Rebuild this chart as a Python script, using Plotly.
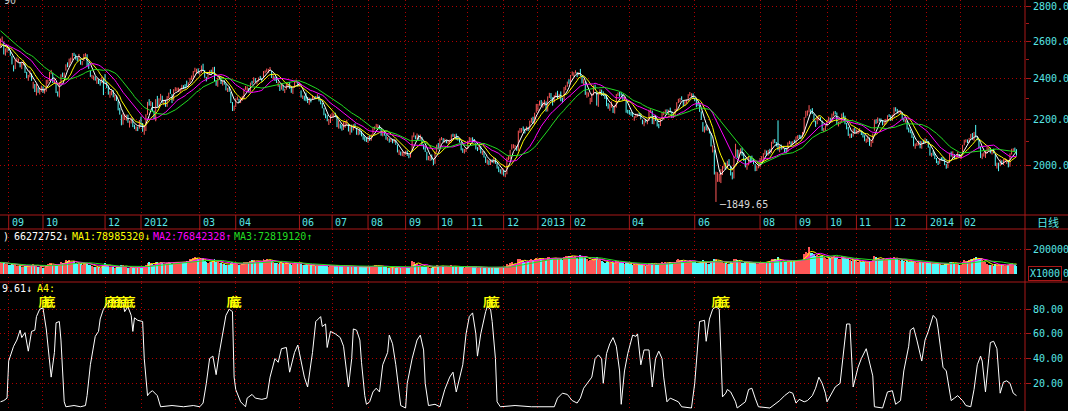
import math
import pandas as pd
import plotly.graph_objects as go

# ---------------- DATA (Shanghai Composite, daily, 2011-08-25 .. 2014-03-27) ----------------
hist_closes = [2796, 2820, 2817, 2812, 2783, 2788, 2800, 2688, 2687, 2752, 2705, 2701, 2703, 2685, 2678,
               2665, 2626, 2526, 2528, 2581, 2550, 2593, 2611, 2607, 2600, 2598, 2534, 2533, 2558, 2570]

opens = [
    2575, 2611, 2592, 2530, 2545,
    2566, 2548, 2517, 2465, 2452, 2497, 2494, 2481, 2466, 2474, 2478, 2426, 2408, 2414, 2424, 2370, 2370, 2338, 2351, 2331, 2342,
    2357, 2330, 2347, 2380, 2395, 2432, 2429, 2382, 2369, 2326, 2317, 2382, 2422, 2410, 2447, 2469,
    2468, 2500, 2503, 2533, 2520, 2505, 2504, 2497, 2480, 2496, 2527, 2524, 2467, 2439, 2409, 2403, 2409, 2386, 2393, 2380, 2392, 2394,
    2400, 2379, 2356, 2320, 2332, 2330, 2298, 2311, 2288, 2244, 2220, 2184, 2217, 2212, 2213, 2183, 2189, 2197, 2168, 2162, 2167, 2162,
    2212, 2170, 2147, 2164, 2227, 2285, 2273, 2282, 2238, 2204, 2297, 2261, 2302, 2310, 2278,
    2292, 2269, 2310, 2340, 2321, 2297, 2343, 2346, 2348, 2344, 2344, 2360, 2365, 2389, 2360, 2383, 2406, 2410, 2444, 2445, 2450,
    2424, 2434, 2465, 2442, 2406, 2403, 2430, 2440, 2438, 2458, 2387, 2366, 2402, 2407, 2378, 2381, 2368, 2342, 2353, 2332, 2278, 2255,
    2267, 2300, 2297, 2283, 2309, 2310, 2352, 2350, 2350, 2339, 2380, 2382, 2400, 2379, 2394, 2405, 2399,
    2410, 2437, 2443, 2435, 2451, 2440, 2405, 2410, 2404, 2365, 2362, 2348, 2364, 2341, 2351, 2371, 2370, 2354, 2333, 2359, 2388, 2379,
    2370, 2339, 2306, 2311, 2305, 2302, 2282, 2300, 2298, 2305, 2308, 2310, 2312, 2290, 2276, 2253, 2222, 2214, 2193, 2189,
    2225, 2222, 2228, 2210, 2165, 2176, 2166, 2162, 2178, 2183, 2182, 2150, 2162, 2161, 2170, 2159, 2140, 2148, 2136, 2127, 2120, 2104,
    2100, 2121, 2111, 2134, 2162, 2168, 2172, 2172, 2160, 2132, 2143, 2128, 2113, 2113, 2104, 2111, 2100, 2106, 2087, 2056, 2055, 2045, 2043,
    2051, 2058, 2042, 2034, 2057, 2126, 2124, 2118, 2130, 2114, 2121, 2083, 2075, 2055, 2024, 2026, 2038, 2025, 2010, 2059,
    2086, 2077, 2113, 2114, 2105, 2103, 2096, 2103, 2100, 2131, 2124, 2133, 2115, 2110, 2099, 2066, 2058, 2063,
    2070, 2104, 2113, 2115, 2107, 2094, 2069, 2068, 2082, 2049, 2056, 2031, 2012, 2015, 2004, 2021, 2012, 2028, 2008, 1990, 1973, 1968,
    1975, 1955, 1963, 2028, 2030, 2067, 2080, 2078, 2076, 2063, 2147, 2150, 2161, 2154, 2157, 2163, 2160, 2194, 2211, 2186, 2236,
    2259, 2275, 2290, 2270, 2275, 2282, 2243, 2312, 2322, 2303, 2289, 2318, 2326, 2308, 2326, 2296, 2295, 2359, 2364, 2386,
    2382, 2428, 2418, 2433, 2429, 2420, 2446, 2413, 2379, 2382, 2313, 2315, 2292, 2293, 2320,
    2360, 2334, 2269, 2327, 2343, 2326, 2320, 2310, 2268, 2262, 2269, 2256, 2240, 2266, 2324, 2326, 2330, 2322, 2301, 2290, 2240,
    2238, 2232, 2229, 2210, 2214, 2222, 2230, 2226, 2198, 2178, 2198, 2188, 2199, 2240, 2240, 2184, 2219, 2197,
    2178, 2175, 2207, 2232, 2236, 2242, 2228, 2248, 2238, 2217, 2224, 2249, 2285, 2297, 2305, 2290, 2274, 2286, 2294, 2321, 2315, 2322,
    2300, 2300, 2273, 2268, 2237, 2187, 2149, 2165, 2157, 2155, 2138, 2070, 2065, 1954, 1950, 1945, 1938,
    1974, 1994, 2001, 1990, 2018, 1995, 1959, 1950, 2040, 2060, 2035, 2056, 2066, 2044, 2026, 1990, 2005, 2030, 2025, 2022, 2000, 1979, 1990,
    1994, 2028, 2025, 2047, 2057, 2045, 2066, 2054, 2100, 2106, 2096, 2080, 2063, 2084, 2070, 2070, 2062, 2056, 2099, 2098, 2093, 2101,
    2099, 2122, 2123, 2121, 2122, 2140, 2215, 2232, 2240, 2245, 2245, 2226, 2189, 2190, 2202, 2208, 2195, 2150, 2160,
    2175, 2200, 2208, 2190, 2225, 2240, 2232, 2180, 2190, 2192, 2228, 2213, 2181, 2162, 2130, 2132, 2128, 2160,
    2142, 2145, 2150, 2150, 2140, 2125, 2100, 2110, 2118, 2084, 2096, 2150, 2195, 2193, 2203, 2198, 2194, 2182, 2183, 2202, 2222,
    2218, 2203, 2220, 2255, 2248, 2235, 2237, 2235, 2203, 2194, 2194, 2158, 2150, 2142, 2120, 2080, 2088, 2090, 2100, 2076, 2101, 2095,
    2112, 2102, 2078, 2040, 2046, 2045, 2026, 2010, 2008, 2025, 2025, 2022, 2000, 1990, 2010, 2050, 2040, 2045, 2030, 2040, 2045,
    2030, 2045, 2088, 2104, 2108, 2100, 2120, 2135, 2110, 2142, 2120, 2110, 2073, 2030, 2045, 2040,
    2055, 2070, 2070, 2052, 2060, 2045, 1995, 1998, 2000, 2015, 2005, 2024, 2020, 2018, 1995, 2050, 2065, 2066, 2062,
]

highs = [
    2614, 2625, 2597, 2560, 2575,
    2569, 2551, 2520, 2470, 2500, 2511, 2505, 2487, 2484, 2496, 2482, 2436, 2420, 2444, 2428, 2385, 2374, 2375, 2357, 2352, 2366,
    2362, 2352, 2395, 2396, 2435, 2446, 2431, 2398, 2376, 2337, 2384, 2423, 2432, 2432, 2475, 2485,
    2505, 2510, 2535, 2536, 2527, 2512, 2530, 2501, 2492, 2530, 2534, 2528, 2484, 2442, 2420, 2417, 2412, 2402, 2398, 2394, 2411, 2405,
    2424, 2384, 2366, 2338, 2343, 2343, 2320, 2317, 2292, 2257, 2225, 2232, 2225, 2225, 2225, 2197, 2212, 2207, 2178, 2170, 2169, 2200,
    2215, 2186, 2170, 2227, 2286, 2299, 2290, 2284, 2244, 2299, 2315, 2303, 2325, 2316, 2296,
    2295, 2314, 2331, 2348, 2324, 2348, 2358, 2356, 2356, 2350, 2370, 2368, 2373, 2391, 2382, 2405, 2417, 2440, 2457, 2452, 2454,
    2436, 2469, 2478, 2445, 2410, 2422, 2444, 2447, 2460, 2462, 2394, 2406, 2414, 2410, 2389, 2393, 2376, 2355, 2360, 2334, 2285, 2268,
    2303, 2312, 2301, 2307, 2315, 2351, 2364, 2362, 2354, 2381, 2390, 2408, 2404, 2392, 2407, 2415, 2405,
    2440, 2443, 2453, 2451, 2461, 2442, 2418, 2412, 2409, 2384, 2368, 2379, 2370, 2350, 2378, 2376, 2384, 2359, 2356, 2391, 2396, 2386,
    2382, 2342, 2317, 2316, 2331, 2310, 2306, 2303, 2318, 2313, 2314, 2323, 2316, 2294, 2281, 2256, 2230, 2222, 2204, 2226,
    2233, 2230, 2234, 2214, 2198, 2183, 2176, 2190, 2193, 2201, 2183, 2173, 2178, 2180, 2184, 2162, 2157, 2162, 2150, 2136, 2125, 2120,
    2125, 2127, 2134, 2164, 2170, 2182, 2180, 2176, 2162, 2149, 2147, 2133, 2122, 2116, 2117, 2114, 2114, 2110, 2088, 2066, 2058, 2057, 2057,
    2062, 2062, 2045, 2056, 2129, 2143, 2129, 2138, 2132, 2133, 2123, 2090, 2080, 2057, 2039, 2039, 2045, 2027, 2058, 2088,
    2095, 2116, 2122, 2117, 2115, 2108, 2106, 2110, 2134, 2137, 2135, 2137, 2122, 2117, 2100, 2072, 2069, 2073,
    2104, 2122, 2119, 2121, 2113, 2096, 2077, 2088, 2083, 2060, 2060, 2036, 2024, 2020, 2024, 2024, 2033, 2030, 2010, 1994, 1982, 1985,
    1978, 1966, 2032, 2040, 2065, 2090, 2090, 2087, 2082, 2151, 2163, 2163, 2170, 2160, 2170, 2168, 2197, 2210, 2215, 2234, 2276,
    2276, 2292, 2295, 2287, 2296, 2288, 2313, 2330, 2329, 2308, 2318, 2332, 2340, 2325, 2337, 2306, 2359, 2367, 2386, 2398,
    2420, 2438, 2434, 2444, 2435, 2434, 2451, 2418, 2398, 2385, 2336, 2332, 2305, 2327, 2367,
    2371, 2336, 2327, 2348, 2346, 2337, 2325, 2318, 2280, 2275, 2288, 2262, 2270, 2324, 2332, 2334, 2335, 2324, 2310, 2292, 2248,
    2247, 2238, 2236, 2218, 2230, 2229, 2234, 2230, 2202, 2198, 2205, 2202, 2248, 2250, 2244, 2220, 2224, 2200,
    2183, 2207, 2236, 2240, 2249, 2250, 2248, 2258, 2240, 2232, 2252, 2284, 2301, 2305, 2313, 2294, 2292, 2296, 2323, 2334, 2328, 2327,
    2307, 2302, 2286, 2270, 2240, 2190, 2170, 2178, 2169, 2160, 2140, 2085, 2066, 1972, 1970, 1964, 1983,
    1996, 2010, 2010, 2018, 2025, 1996, 1970, 2037, 2092, 2067, 2065, 2072, 2075, 2054, 2030, 2008, 2036, 2037, 2040, 2027, 2004, 1996, 2003,
    2030, 2038, 2051, 2066, 2062, 2065, 2070, 2101, 2111, 2113, 2100, 2198, 2086, 2088, 2083, 2072, 2075, 2098, 2105, 2102, 2104, 2110,
    2124, 2130, 2132, 2130, 2145, 2213, 2243, 2245, 2270, 2250, 2256, 2229, 2197, 2212, 2218, 2213, 2197, 2163, 2176,
    2202, 2215, 2210, 2230, 2240, 2242, 2235, 2192, 2197, 2230, 2235, 2220, 2186, 2168, 2137, 2138, 2161, 2165,
    2156, 2152, 2162, 2152, 2144, 2130, 2115, 2130, 2120, 2106, 2138, 2202, 2203, 2212, 2207, 2207, 2200, 2192, 2205, 2222, 2227,
    2222, 2225, 2260, 2260, 2252, 2245, 2243, 2237, 2210, 2202, 2197, 2165, 2156, 2146, 2124, 2093, 2098, 2106, 2105, 2103, 2110, 2118,
    2113, 2103, 2080, 2052, 2063, 2052, 2030, 2018, 2028, 2033, 2035, 2025, 2005, 2010, 2052, 2058, 2059, 2047, 2041, 2056, 2047,
    2046, 2087, 2110, 2112, 2111, 2118, 2136, 2140, 2145, 2177, 2125, 2112, 2078, 2050, 2055, 2060,
    2078, 2075, 2075, 2065, 2070, 2047, 2010, 2010, 2025, 2020, 2025, 2030, 2025, 2021, 2050, 2070, 2072, 2075, 2068,
]

lows = [
    2569, 2596, 2527, 2521, 2538,
    2547, 2520, 2474, 2438, 2450, 2487, 2485, 2459, 2450, 2470, 2430, 2403, 2390, 2408, 2390, 2351, 2334, 2317, 2330, 2322, 2335,
    2330, 2326, 2336, 2375, 2389, 2424, 2379, 2374, 2329, 2312, 2307, 2374, 2408, 2399, 2442, 2460,
    2460, 2480, 2498, 2518, 2500, 2490, 2497, 2473, 2470, 2492, 2516, 2465, 2451, 2410, 2402, 2393, 2391, 2375, 2374, 2366, 2378, 2319,
    2380, 2353, 2321, 2306, 2318, 2308, 2292, 2290, 2245, 2225, 2175, 2178, 2200, 2197, 2187, 2165, 2184, 2167, 2158, 2149, 2149, 2160,
    2168, 2146, 2132, 2149, 2224, 2268, 2265, 2240, 2202, 2194, 2262, 2259, 2292, 2282, 2270,
    2262, 2262, 2302, 2325, 2280, 2291, 2337, 2339, 2334, 2330, 2341, 2349, 2352, 2360, 2356, 2378, 2395, 2406, 2434, 2426, 2426,
    2416, 2431, 2440, 2406, 2387, 2399, 2421, 2425, 2432, 2387, 2365, 2360, 2395, 2374, 2366, 2371, 2342, 2334, 2335, 2280, 2242, 2243,
    2261, 2294, 2281, 2280, 2291, 2300, 2345, 2341, 2331, 2336, 2370, 2378, 2383, 2372, 2386, 2398, 2385,
    2409, 2428, 2434, 2431, 2444, 2404, 2397, 2389, 2379, 2360, 2339, 2346, 2340, 2329, 2346, 2355, 2350, 2330, 2324, 2356, 2378, 2363,
    2361, 2307, 2300, 2292, 2289, 2280, 2272, 2283, 2296, 2301, 2299, 2305, 2288, 2274, 2255, 2222, 2208, 2194, 2177, 2186,
    2213, 2212, 2213, 2167, 2160, 2160, 2151, 2154, 2164, 2174, 2147, 2132, 2142, 2152, 2163, 2132, 2130, 2133, 2125, 2110, 2103, 2100,
    2096, 2105, 2106, 2131, 2155, 2164, 2163, 2158, 2128, 2125, 2128, 2110, 2105, 2097, 2100, 2094, 2097, 2087, 2054, 2043, 2040, 2038, 2036,
    2044, 2039, 2029, 2032, 2057, 2121, 2112, 2113, 2110, 2110, 2083, 2067, 2056, 2020, 2020, 2017, 2020, 1999, 2005, 2053,
    2067, 2075, 2108, 2099, 2097, 2094, 2090, 2095, 2098, 2123, 2118, 2110, 2106, 2097, 2063, 2052, 2049, 2056,
    2068, 2100, 2105, 2100, 2097, 2067, 2060, 2065, 2050, 2043, 2032, 2009, 2002, 2000, 2000, 2010, 2007, 2005, 1985, 1970, 1964, 1960,
    1955, 1949, 1961, 2021, 2025, 2066, 2072, 2068, 2061, 2061, 2140, 2142, 2150, 2138, 2150, 2149, 2155, 2187, 2182, 2182, 2234,
    2242, 2268, 2265, 2258, 2268, 2239, 2240, 2305, 2298, 2268, 2283, 2306, 2300, 2302, 2289, 2280, 2293, 2343, 2360, 2375,
    2380, 2416, 2410, 2428, 2409, 2418, 2414, 2377, 2369, 2320, 2306, 2311, 2274, 2285, 2318,
    2346, 2268, 2262, 2320, 2315, 2316, 2300, 2265, 2253, 2243, 2258, 2233, 2230, 2258, 2315, 2310, 2317, 2293, 2290, 2234, 2230,
    2225, 2220, 2214, 2196, 2210, 2215, 2218, 2204, 2180, 2171, 2188, 2180, 2196, 2233, 2181, 2180, 2195, 2170,
    2162, 2172, 2205, 2222, 2230, 2225, 2222, 2234, 2209, 2210, 2219, 2244, 2280, 2285, 2294, 2264, 2268, 2277, 2288, 2315, 2306, 2300,
    2289, 2260, 2265, 2238, 2200, 2146, 2142, 2152, 2150, 2138, 2080, 2054, 1960, 1849.65, 1930, 1930, 1925,
    1958, 1984, 1980, 1985, 2000, 1956, 1940, 1944, 2035, 2030, 2028, 2050, 2040, 2017, 1990, 1980, 2000, 2016, 2015, 2003, 1974, 1975, 1986,
    1990, 2020, 2020, 2044, 2040, 2040, 2046, 2052, 2092, 2095, 2080, 2063, 2055, 2066, 2068, 2055, 2052, 2055, 2090, 2084, 2086, 2095,
    2092, 2114, 2115, 2113, 2120, 2139, 2210, 2220, 2235, 2228, 2228, 2190, 2168, 2180, 2197, 2195, 2150, 2144, 2150,
    2170, 2195, 2190, 2188, 2220, 2226, 2180, 2170, 2180, 2190, 2206, 2180, 2157, 2127, 2117, 2118, 2124, 2138,
    2136, 2135, 2142, 2131, 2120, 2103, 2096, 2100, 2083, 2078, 2095, 2150, 2182, 2185, 2193, 2190, 2175, 2176, 2180, 2200, 2214,
    2195, 2196, 2215, 2240, 2230, 2230, 2228, 2200, 2192, 2187, 2156, 2143, 2139, 2118, 2081, 2070, 2082, 2085, 2072, 2070, 2092, 2093,
    2101, 2075, 2040, 2035, 2040, 2025, 2008, 2000, 2005, 2020, 2018, 2000, 1984, 1987, 2008, 2036, 2030, 2026, 2024, 2035, 2030,
    2025, 2044, 2085, 2098, 2095, 2096, 2115, 2110, 2105, 2120, 2108, 2070, 2030, 2025, 2036, 2030,
    2050, 2060, 2050, 2045, 2050, 1996, 1985, 1974, 1995, 2000, 2000, 2018, 2005, 1990, 1993, 2045, 2058, 2055, 2040,
]

closes = [
    2612, 2612, 2528, 2549, 2568,
    2553, 2528, 2478, 2450, 2495, 2498, 2497, 2473, 2468, 2476, 2433, 2410, 2412, 2437, 2394, 2374, 2341, 2348, 2340, 2343, 2359,
    2344, 2335, 2383, 2388, 2431, 2436, 2383, 2383, 2331, 2317, 2382, 2420, 2418, 2427, 2473, 2468,
    2504, 2505, 2528, 2528, 2509, 2503, 2525, 2481, 2481, 2529, 2530, 2466, 2453, 2416, 2412, 2412, 2396, 2397, 2380, 2380, 2409, 2333,
    2387, 2360, 2326, 2325, 2334, 2311, 2315, 2292, 2249, 2229, 2180, 2224, 2218, 2215, 2191, 2187, 2204, 2170, 2164, 2168, 2163, 2199,
    2169, 2148, 2163, 2226, 2286, 2275, 2276, 2245, 2206, 2298, 2267, 2298, 2319, 2285, 2292,
    2268, 2312, 2330, 2331, 2291, 2347, 2350, 2351, 2351, 2345, 2366, 2357, 2357, 2364, 2381, 2404, 2409, 2439, 2447, 2451, 2428,
    2434, 2460, 2445, 2411, 2395, 2420, 2439, 2437, 2457, 2391, 2373, 2404, 2410, 2376, 2378, 2375, 2349, 2350, 2347, 2283, 2252, 2262,
    2302, 2306, 2285, 2305, 2309, 2350, 2359, 2357, 2335, 2379, 2377, 2406, 2389, 2389, 2405, 2404, 2396,
    2438, 2440, 2452, 2448, 2452, 2408, 2410, 2394, 2380, 2374, 2346, 2378, 2344, 2348, 2378, 2372, 2353, 2333, 2356, 2390, 2389, 2373,
    2373, 2308, 2309, 2300, 2293, 2281, 2305, 2290, 2317, 2307, 2306, 2316, 2292, 2279, 2260, 2224, 2215, 2196, 2195, 2225,
    2227, 2229, 2217, 2171, 2169, 2170, 2164, 2182, 2185, 2185, 2154, 2169, 2160, 2171, 2168, 2138, 2150, 2136, 2130, 2117, 2108, 2103,
    2125, 2113, 2133, 2163, 2169, 2174, 2174, 2168, 2132, 2144, 2132, 2115, 2114, 2106, 2112, 2101, 2109, 2092, 2059, 2058, 2046, 2051, 2047,
    2059, 2043, 2037, 2053, 2128, 2128, 2118, 2133, 2116, 2127, 2085, 2074, 2058, 2026, 2029, 2033, 2024, 2004, 2056, 2086,
    2075, 2115, 2116, 2104, 2105, 2103, 2104, 2104, 2132, 2128, 2133, 2116, 2115, 2101, 2067, 2059, 2062, 2069,
    2104, 2117, 2114, 2106, 2105, 2070, 2069, 2085, 2052, 2058, 2035, 2014, 2018, 2010, 2021, 2014, 2029, 2009, 1992, 1973, 1973, 1980,
    1959, 1965, 2031, 2030, 2063, 2083, 2081, 2083, 2064, 2150, 2156, 2160, 2159, 2153, 2167, 2162, 2195, 2208, 2187, 2233, 2269,
    2276, 2286, 2276, 2275, 2283, 2243, 2312, 2325, 2309, 2285, 2317, 2329, 2315, 2321, 2302, 2292, 2358, 2362, 2382, 2385,
    2419, 2428, 2433, 2434, 2418, 2432, 2421, 2382, 2397, 2325, 2314, 2326, 2293, 2325, 2365,
    2360, 2273, 2326, 2347, 2324, 2318, 2310, 2270, 2263, 2264, 2278, 2240, 2266, 2324, 2328, 2324, 2327, 2300, 2301, 2237, 2237,
    2234, 2226, 2225, 2212, 2226, 2226, 2225, 2207, 2181, 2195, 2193, 2197, 2245, 2242, 2184, 2218, 2199, 2177,
    2174, 2206, 2235, 2236, 2247, 2232, 2247, 2241, 2217, 2229, 2251, 2283, 2299, 2304, 2302, 2275, 2288, 2294, 2321, 2324, 2324, 2301,
    2299, 2272, 2270, 2242, 2211, 2148, 2163, 2156, 2159, 2144, 2084, 2073, 1963, 1959, 1951, 1950, 1979,
    1995, 2006, 1994, 2007, 2007, 1958, 1945, 2037, 2072, 2039, 2059, 2066, 2044, 2023, 1992, 2004, 2033, 2025, 2021, 2010, 1977, 1991, 1994,
    2029, 2029, 2050, 2060, 2049, 2063, 2052, 2101, 2106, 2100, 2082, 2069, 2085, 2072, 2073, 2064, 2057, 2097, 2103, 2093, 2100, 2098,
    2123, 2127, 2123, 2121, 2140, 2212, 2237, 2242, 2255, 2236, 2231, 2191, 2186, 2208, 2207, 2199, 2156, 2160, 2175,
    2198, 2211, 2192, 2228, 2238, 2233, 2183, 2188, 2193, 2229, 2211, 2183, 2164, 2133, 2133, 2128, 2160, 2141,
    2149, 2150, 2157, 2139, 2129, 2106, 2109, 2126, 2087, 2100, 2135, 2197, 2193, 2206, 2201, 2197, 2184, 2183, 2203, 2221, 2220,
    2207, 2222, 2251, 2250, 2237, 2238, 2238, 2204, 2197, 2196, 2160, 2151, 2143, 2122, 2085, 2088, 2091, 2102, 2075, 2101, 2097, 2116,
    2109, 2083, 2045, 2047, 2045, 2027, 2013, 2009, 2026, 2024, 2024, 2004, 1991, 2008, 2052, 2042, 2055, 2033, 2038, 2050, 2033,
    2044, 2086, 2104, 2110, 2100, 2115, 2135, 2112, 2142, 2127, 2113, 2076, 2034, 2047, 2046, 2056,
    2075, 2072, 2053, 2059, 2058, 1999, 2001, 1998, 2020, 2004, 2024, 2025, 2021, 1994, 2047, 2066, 2067, 2063, 2046,
]

# volume in millions of lots (axis label 200000 = 200 M)
volume = [
    92, 95, 88, 78, 80,
    75, 70, 78, 72, 74, 66, 62, 60, 58, 55, 62, 65, 60, 64, 72, 80, 70, 62, 58, 55, 60,
    50, 48, 75, 80, 88, 85, 70, 60, 65, 62, 82, 98, 90, 85, 110, 105,
    112, 100, 98, 102, 88, 80, 85, 82, 70, 90, 88, 85, 72, 75, 60, 58, 55, 52, 55, 50, 56, 70,
    88, 75, 60, 55, 52, 55, 50, 52, 60, 62, 68, 72, 55, 52, 50, 48, 52, 50, 45, 48, 46, 55,
    50, 52, 55, 70, 88, 92, 85, 78, 72, 95, 100, 90, 98, 85, 78,
    80, 90, 95, 88, 80, 98, 100, 95, 92, 85, 100, 95, 92, 102, 108, 118, 125, 130, 138, 132, 120,
    110, 125, 128, 105, 95, 90, 98, 100, 112, 120, 95, 92, 88, 85, 80, 78, 75, 72, 70, 90, 95, 85,
    80, 78, 72, 74, 80, 95, 98, 96, 88, 105, 110, 115, 100, 95, 102, 100, 92,
    120, 115, 118, 110, 112, 105, 98, 90, 85, 82, 88, 92, 85, 80, 88, 86, 80, 75, 78, 98, 96, 88,
    85, 80, 72, 70, 75, 72, 70, 68, 72, 70, 65, 66, 64, 60, 62, 68, 62, 60, 58, 65,
    66, 64, 62, 70, 72, 65, 60, 62, 64, 66, 60, 62, 58, 56, 55, 54, 52, 55, 52, 56, 55, 54,
    56, 55, 57, 66, 68, 70, 66, 62, 58, 56, 54, 52, 50, 48, 50, 48, 46, 48, 55, 52, 50, 48, 50,
    48, 46, 45, 52, 108, 100, 82, 78, 70, 72, 65, 58, 55, 58, 52, 50, 48, 52, 62, 68,
    58, 66, 64, 58, 56, 54, 52, 55, 70, 66, 62, 60, 56, 54, 58, 52, 50, 52,
    62, 66, 58, 55, 52, 56, 50, 48, 52, 48, 50, 52, 48, 46, 50, 45, 48, 46, 50, 52, 48, 52,
    50, 48, 78, 72, 85, 92, 80, 78, 75, 120, 118, 110, 105, 100, 98, 95, 112, 118, 110, 122, 130,
    125, 130, 122, 118, 115, 112, 135, 140, 130, 120, 125, 132, 128, 120, 118, 112, 140, 145, 150, 142,
    150, 148, 140, 145, 130, 125, 155, 150, 128, 145, 120, 105, 110, 112, 118,
    120, 135, 115, 118, 105, 96, 90, 100, 92, 88, 86, 90, 85, 105, 102, 95, 92, 88, 82, 98, 85,
    80, 76, 72, 78, 75, 70, 68, 72, 76, 70, 66, 68, 88, 85, 90, 82, 75, 72,
    72, 80, 95, 90, 92, 88, 90, 92, 85, 82, 95, 110, 118, 115, 112, 100, 98, 96, 108, 112, 105, 98,
    95, 90, 85, 88, 92, 110, 95, 88, 82, 80, 105, 108, 125, 118, 105, 95, 100,
    95, 88, 85, 82, 80, 92, 90, 118, 125, 110, 98, 95, 90, 88, 92, 85, 95, 90, 86, 84, 88, 82, 80,
    88, 90, 96, 100, 95, 98, 100, 120, 125, 118, 110, 140, 108, 100, 98, 95, 92, 110, 115, 105, 100, 102,
    110, 112, 108, 105, 115, 160, 180, 175, 220, 175, 168, 160, 150, 155, 148, 145, 150, 135, 128,
    125, 132, 128, 140, 145, 138, 135, 125, 120, 142, 138, 130, 122, 118, 110, 108, 115, 110,
    105, 100, 102, 98, 95, 100, 92, 96, 105, 98, 112, 150, 135, 130, 125, 120, 118, 112, 120, 128, 125,
    130, 125, 135, 130, 120, 112, 108, 110, 102, 100, 105, 98, 95, 98, 105, 92, 88, 90, 95, 90, 88, 92,
    85, 88, 95, 80, 82, 80, 78, 76, 80, 75, 74, 76, 80, 78, 98, 92, 95, 82, 78, 80, 72,
    70, 95, 110, 108, 102, 110, 125, 120, 128, 140, 118, 120, 130, 110, 102, 98,
    80, 75, 70, 68, 66, 80, 75, 78, 72, 70, 68, 66, 65, 72, 82, 85, 80, 83, 66,
]

# oscillator (A4): vertices as (day index, value)
osc_idx = [0, 2, 4, 5, 6, 8, 10, 12, 13, 15, 17, 19, 21, 22, 24, 26, 28, 30, 31, 33, 34, 36, 37, 39, 40, 45, 49, 52,
           53, 55, 58, 60, 61, 63, 65, 68, 70, 72, 75, 76, 78, 80, 81, 82, 84, 87, 88, 90, 91, 93, 96, 98, 105, 112,
           118, 122, 124, 126, 128, 130, 132, 134, 136, 138, 140, 142, 143, 144, 147, 150, 151, 154, 156, 160, 163,
           165, 168, 170, 172, 175, 177, 180, 182, 183, 186, 188, 191, 193, 196, 197, 199, 200, 202, 205, 208, 210,
           213, 215, 216, 218, 220, 221, 223, 224, 226, 228, 230, 232, 234, 237, 238, 240, 242, 245, 248, 249, 252,
           255, 257, 259, 260, 262, 266, 269, 272, 275, 277, 279, 283, 285, 287, 289, 291, 292, 294, 297, 298, 300,
           301, 303, 304, 306, 315, 325, 339, 341, 344, 347, 350, 353, 355, 357, 360, 362, 364, 366, 368, 369, 371,
           373, 375, 377, 379, 380, 382, 384, 387, 389, 390, 392, 394, 397, 399, 401, 403, 405, 406, 408, 410, 413,
           415, 417, 423, 425, 427, 428, 431, 432, 434, 436, 438, 440, 442, 444, 445, 447, 450, 451, 454, 456, 458,
           460, 462, 464, 471, 474, 477, 480, 483, 485, 487, 489, 492, 494, 497, 499, 501, 503, 505, 506, 508, 511,
           514, 516, 518, 520, 521, 522, 525, 527, 530, 531, 533, 534, 535, 540, 543, 546, 548, 551, 553, 556, 557,
           559, 561, 563, 564, 566, 568, 571, 573, 574, 576, 577, 579, 580, 582, 584, 586, 589, 591, 594, 596, 598,
           600, 601, 603, 605, 606, 608, 610, 612, 614, 616, 618, 620, 622]
osc_val = [5, 6, 8, 38, 42, 50, 55, 63, 57, 61, 46, 62, 63, 74, 80, 81, 64, 40, 25, 45, 69, 70, 55, 5, 1, 2, 1, 2,
           10, 35, 58, 62, 72, 80, 84, 88, 86, 88, 85, 78, 82, 75, 62, 73, 71, 70, 40, 10, 12, 14, 10, 1, 2, 1,
           2, 1, 4, 20, 40, 42, 27, 45, 60, 75, 80, 78, 25, 15, 5, 1, 8, 11, 8, 7, 8,
           25, 40, 37, 48, 49, 29, 45, 51, 45, 25, 17, 45, 70, 74, 66, 68, 49, 62, 60, 57, 50,
           17, 40, 64, 63, 55, 37, 10, 3, 5, 13, 16, 13, 35, 45, 59, 52, 35, 2, 0, 20, 40,
           55, 59, 47, 20, 2, 3, 1, 15, 25, 29, 13, 35, 60, 74, 77, 60, 42, 60, 78, 82, 80,
           70, 40, 5, 1, 2, 1, 1, 8, 12, 11, 6, 4, 8, 16, 22, 25, 40, 43, 40, 20, 44,
           52, 57, 50, 30, 3, 30, 44, 59, 58, 60, 35, 47, 47, 17, 40, 46, 40, 25, 5, 8, 6,
           5, 1, 0, 20, 50, 70, 71, 54, 72, 80, 82, 80, 9, 12, 15, 13, 5, 0, 3, 5, 15,
           16, 8, 1, 0, 3, 6, 10, 13, 12, 4, 7, 5, 6, 10, 16, 25, 20, 12, 5, 10, 17,
           20, 45, 68, 68, 40, 17, 33, 40, 48, 42, 30, 26, 1, 0, 13, 14, 3, 6, 30, 50, 63,
           65, 55, 42, 38, 55, 62, 75, 72, 64, 40, 33, 30, 22, 6, 8, 10, 6, 2, 1, 15, 35,
           42, 38, 13, 40, 53, 54, 48, 12, 21, 22, 20, 12, 10]

# days on which the yellow "底" signal is printed
signal_idx = [27, 30, 67, 71, 75, 79, 142, 144, 299, 302, 439, 443]

# month axis
month_idx = [5, 26, 64, 86, 122, 144, 183, 203, 225, 248, 268, 286, 308, 329, 349, 385, 425, 465, 487, 506, 524, 545, 567, 588]
month_txt = ['09', '10', '12', '2012', '03', '04', '06', '07', '08', '09', '10', '11', '12', '2013', '02', '04', '06',
             '08', '09', '10', '11', '12', '2014', '02']

price_ticks = [2000, 2200, 2400, 2600, 2800]
price_minor = [2100, 2300, 2500, 2700]
ma_windows = [5, 10, 20, 30]
vol_ma_windows = [5, 10, 20]
osc_ticks = [20, 40, 60, 80]

# ---------------- STYLE / LAYOUT ----------------
W, H = 1068, 411
PLOT_R = 1025
UP = '#FF5858'
DN = '#54FCFC'
RED = '#A81818'
GRID = '#B00000'
CYAN = '#58E6E6'
MONO = 'DejaVu Sans Mono'
CJK = 'Noto Sans CJK SC'
ma_colors = ['#FFFFFF', '#FFFF00', '#FF00FF', '#22DD22']
vol_ma_colors = ['#FFFF00', '#FF00FF', '#22DD22']


def yp(pix):
    return 1 - pix / H


def xp(pix):
    return pix / W


n = len(closes)
idx = list(range(n))

fig = go.Figure()

# candles drawn as 1px high-low sticks (too narrow for bodies at this density)
fig.add_trace(go.Ohlc(
    x=idx, open=opens, high=highs, low=lows, close=closes, tickwidth=0,
    increasing=dict(line=dict(color=UP, width=1)),
    decreasing=dict(line=dict(color=DN, width=1)),
    xaxis='x', yaxis='y', hoverinfo='skip'))

allc = pd.Series(hist_closes + closes, dtype=float)
for w, col in zip(ma_windows, ma_colors):
    ma = allc.rolling(w, min_periods=1).mean().iloc[len(hist_closes):].values
    fig.add_trace(go.Scatter(x=idx, y=ma, mode='lines', line=dict(color=col, width=1),
                             xaxis='x', yaxis='y', hoverinfo='skip'))

# volume
vcol = [UP if c >= o else DN for o, c in zip(opens, closes)]
fig.add_trace(go.Bar(x=idx, y=volume, marker=dict(color=vcol, line=dict(width=0)), width=0.6,
                     xaxis='x2', yaxis='y2', hoverinfo='skip'))
vs = pd.Series(volume, dtype=float)
for w, col in zip(vol_ma_windows, vol_ma_colors):
    fig.add_trace(go.Scatter(x=idx, y=vs.rolling(w, min_periods=1).mean().values, mode='lines',
                             line=dict(color=col, width=1), xaxis='x2', yaxis='y2', hoverinfo='skip'))

# oscillator
fig.add_trace(go.Scatter(x=osc_idx, y=osc_val, mode='lines', line=dict(color='#FFFFFF', width=1),
                         xaxis='x3', yaxis='y3', hoverinfo='skip'))
fig.add_trace(go.Scatter(x=signal_idx, y=[84] * len(signal_idx), mode='text', text=['底'] * len(signal_idx),
                         textfont=dict(color='#FFFF00', size=12, family=CJK, weight='bold'),
                         textposition='middle center', xaxis='x3', yaxis='y3', hoverinfo='skip'))

XR = [-0.32, 627.2]
xcommon = dict(domain=[0, xp(PLOT_R)], range=XR, tickmode='array', tickvals=month_idx, showticklabels=False,
               ticks='', showgrid=True, gridcolor=GRID, griddash='1px,3px', gridwidth=1, zeroline=False,
               showline=False, fixedrange=True)
tickfont = dict(family=MONO, size=10, color=CYAN)

fig.update_layout(
    width=W, height=H, margin=dict(l=0, r=0, t=0, b=0),
    paper_bgcolor='#000000', plot_bgcolor='#000000', showlegend=False, hovermode=False,
    bargap=0,
    xaxis=dict(anchor='y', rangeslider=dict(visible=False), **xcommon),
    xaxis2=dict(anchor='y2', **xcommon),
    xaxis3=dict(anchor='y3', **xcommon),
    yaxis=dict(domain=[yp(215), 1], type='log',
               range=[math.log10(2800) - (215 - 6) / 1088.2, math.log10(2800) + 6 / 1088.2],
               side='right', anchor='x', tickmode='array', tickvals=price_ticks,
               ticktext=[f'{v:.1f}' for v in price_ticks], ticks='outside', ticklen=5, tickcolor=RED,
               tickfont=tickfont, showgrid=True, gridcolor=GRID, griddash='1px,3px', zeroline=False,
               showline=False, fixedrange=True,
               minor=dict(tickmode='array', tickvals=price_minor, ticks='outside', ticklen=3, tickcolor=RED,
                          showgrid=False)),
    yaxis2=dict(domain=[yp(282), yp(229)], range=[-70.8, 370.8], side='right', anchor='x2',
                tickmode='array', tickvals=[200], ticktext=['200000'], ticks='outside', ticklen=5,
                tickcolor=RED, tickfont=tickfont, showgrid=True, gridcolor=GRID, griddash='1px,3px',
                zeroline=False, showline=False, fixedrange=True),
    yaxis3=dict(domain=[0, yp(282.5)], range=[-2.43, 101.6], side='right', anchor='x3',
                tickmode='array', tickvals=osc_ticks, ticktext=[f'{v:.2f}' for v in osc_ticks],
                ticks='outside', ticklen=5, tickcolor=RED, tickfont=tickfont, showgrid=True,
                gridcolor=GRID, griddash='1px,3px', zeroline=False, showline=False, fixedrange=True),
)

shapes = []
# frame lines
shapes.append(dict(type='line', xref='paper', yref='paper', x0=xp(PLOT_R), x1=xp(PLOT_R), y0=0, y1=1,
                   line=dict(color=RED, width=1)))
for ypix in (215, 229, 282):
    shapes.append(dict(type='line', xref='paper', yref='paper', x0=0, x1=1, y0=yp(ypix), y1=yp(ypix),
                       line=dict(color=RED, width=1)))
# month ticks in the date strip
for m in month_idx:
    shapes.append(dict(type='line', xref='x', yref='paper', x0=m, x1=m, y0=yp(229), y1=yp(215),
                       line=dict(color=RED, width=1)))
fig.update_layout(shapes=shapes)

ann = []
for m, t in zip(month_idx, month_txt):
    ann.append(dict(x=m, xref='x', y=yp(222), yref='paper', text=t, showarrow=False, xanchor='left',
                    yanchor='middle', xshift=1, font=dict(family=MONO, size=10, color=CYAN)))
ann.append(dict(x=xp(1035), xref='paper', y=yp(222), yref='paper', text='日线', showarrow=False,
                xanchor='left', yanchor='middle', font=dict(family=CJK, size=11, color=CYAN)))
# low marker
low_i = min(range(n), key=lambda i: lows[i])
ann.append(dict(x=low_i, xref='x', y=math.log10(lows[low_i]), yref='y', text=f'─{lows[low_i]:.2f}',
                showarrow=False, xanchor='left', yanchor='middle', xshift=1, yshift=-3,
                font=dict(family=MONO, size=10, color='#D8D8D8')))
# cut-off title of price pane
ann.append(dict(x=xp(2), xref='paper', y=1, yref='paper', text='90', showarrow=False, xanchor='left',
                yanchor='middle', font=dict(family=MONO, size=10, color='#C8C8C8')))
# volume pane title
vol_title = [(1, ')', '#FFFFFF'), (12, '66272752↓', '#FFFFFF'), (70, 'MA1:78985320↓', '#FFFF00'),
             (151, 'MA2:76842328↑', '#FF00FF'), (232, 'MA3:72819120↑', '#22DD22')]
for xpix, t, c in vol_title:
    ann.append(dict(x=xp(xpix), xref='paper', y=yp(236.5), yref='paper', text=t, showarrow=False,
                    xanchor='left', yanchor='middle', font=dict(family=MONO, size=10, color=c)))
# oscillator title
for xpix, t, c in [(0, '9.61↓', '#FFFFFF'), (35, 'A4:', '#FFFF00')]:
    ann.append(dict(x=xp(xpix), xref='paper', y=yp(288), yref='paper', text=t, showarrow=False,
                    xanchor='left', yanchor='middle', font=dict(family=MONO, size=10, color=c)))
# volume unit box
ann.append(dict(x=xp(1028), xref='paper', y=yp(273.5), yref='paper', text='X1000', showarrow=False,
                xanchor='left', yanchor='middle', bordercolor=RED, borderwidth=1, borderpad=1,
                font=dict(family=MONO, size=10, color=CYAN)))
ann.append(dict(x=xp(1061), xref='paper', y=yp(273.5), yref='paper', text='0', showarrow=False,
                xanchor='left', yanchor='middle', font=dict(family=MONO, size=10, color=CYAN)))
fig.update_layout(annotations=ann)

fig.write_html('out.html', config={'displayModeBar': False},
               post_script="document.body.style.margin='0';document.body.style.padding='0';")
